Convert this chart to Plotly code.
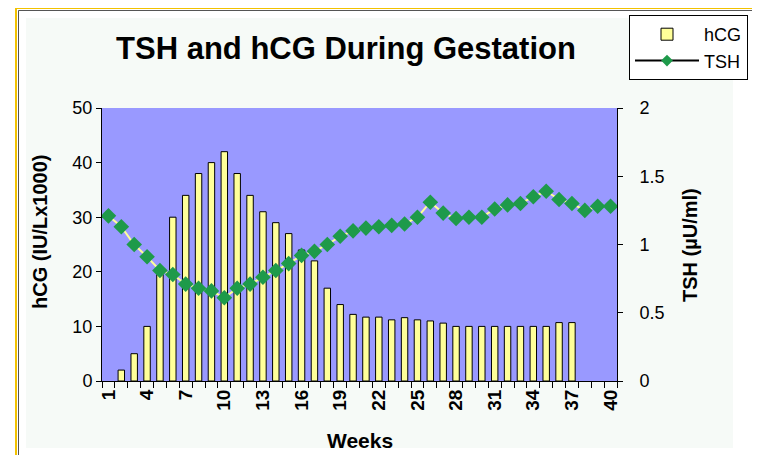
import plotly.graph_objects as go

weeks = list(range(1, 41))
hcg = [None, 2, 5, 10, 19.5, 30, 34, 38, 40, 42, 38, 34, 31, 29, 27, 24, 22, 17, 14, 12.2,
       11.7, 11.7, 11.2, 11.6, 11.2, 11.0, 10.6, 10, 10, 10, 10, 10, 10, 10, 10, 10.7, 10.7,
       None, None, None]
tsh = [1.21, 1.13, 1.0, 0.91, 0.81, 0.78, 0.71, 0.68, 0.66, 0.61, 0.68, 0.71, 0.76, 0.81,
       0.86, 0.92, 0.95, 1.0, 1.06, 1.1, 1.12, 1.13, 1.14, 1.15, 1.2, 1.31, 1.23, 1.19,
       1.2, 1.2, 1.26, 1.29, 1.3, 1.35, 1.39, 1.33, 1.3, 1.25, 1.28, 1.28]
x_ticks = list(range(1, 41, 3))

OFF = 8  # page body margin
W, H = 760 - OFF, 455 - OFF
SL, SR, ST, SB = 102, 617, 108, 381  # plot area in screenshot pixels


def px(x):
    return (x - SL) / (SR - SL)


def py(y):
    return (SB - y) / (SB - ST)


fig = go.Figure()
fig.add_trace(go.Bar(
    x=weeks, y=hcg, name="hCG", width=0.5,
    marker=dict(color="#FFFF99", line=dict(color="black", width=1)),
    yaxis="y",
))
fig.add_trace(go.Scatter(
    x=weeks, y=tsh, name="TSH", mode="lines+markers", yaxis="y2",
    line=dict(color="#FFFF99", width=2),
    marker=dict(symbol="diamond", size=12, color="#1E9A4A"),
    showlegend=False,
))
fig.add_trace(go.Scatter(
    x=[None], y=[None], name="TSH", mode="lines+markers", yaxis="y2",
    line=dict(color="black", width=2),
    marker=dict(symbol="diamond", size=9, color="#1E9A4A"),
))

font = "Liberation Sans, Arial, sans-serif"
shapes = [
    dict(type="rect", xref="paper", yref="paper", layer="below",
         x0=px(26), x1=px(733), y0=py(448), y1=py(18),
         fillcolor="#F6FAF7", line=dict(width=0)),
    dict(type="rect", xref="paper", yref="paper", layer="below",
         x0=0, x1=1, y0=0, y1=1,
         fillcolor="#9999FF", line=dict(width=0)),
    dict(type="rect", xref="paper", yref="paper", layer="below",
         x0=px(16), x1=px(775), y0=py(470), y1=py(8),
         line=dict(color="#F2C200", width=2)),
    dict(type="rect", xref="paper", yref="paper", layer="below",
         x0=px(18.5), x1=px(775), y0=py(470), y1=py(10.5),
         line=dict(color="#555555", width=1)),
]

annotations = [
    dict(text="<b>hCG (IU/Lx1000)</b>", xref="paper", yref="paper",
         x=px(40), y=py(232), textangle=-90, showarrow=False,
         xanchor="center", yanchor="middle", font=dict(size=20, family=font)),
    dict(text="<b>TSH (µU/ml)</b>", xref="paper", yref="paper",
         x=px(690), y=py(245), textangle=-90, showarrow=False,
         xanchor="center", yanchor="middle", font=dict(size=20, family=font)),
    dict(text="<b>Weeks</b>", xref="paper", yref="paper",
         x=px(360), y=py(440), showarrow=False,
         xanchor="center", yanchor="middle", font=dict(size=21, family=font)),
]

fig.update_layout(
    width=W, height=H,
    margin=dict(l=SL - OFF, r=W - (SR - OFF), t=ST - OFF, b=H - (SB - OFF)),
    paper_bgcolor="white",
    plot_bgcolor="rgba(0,0,0,0)",
    font=dict(family=font, color="black"),
    title=dict(text="<b>TSH and hCG During Gestation</b>", x=px(346), xref="paper",
               xanchor="center", y=1 - (48 - OFF) / H, yanchor="middle",
               font=dict(size=31, family=font, color="black")),
    showlegend=True,
    legend=dict(xref="container", yref="container",
                x=(629 - OFF) / W, y=1 - (15 - OFF) / H, xanchor="left", yanchor="top",
                bgcolor="white", bordercolor="black", borderwidth=1,
                font=dict(size=18, family=font), tracegroupgap=7,
                itemwidth=64),
    xaxis=dict(
        range=[0.5, 40.5], tickmode="array", tickvals=x_ticks,
        ticktext=["<b>%d</b>" % v for v in x_ticks], tickangle=-90,
        ticks="", showgrid=False, zeroline=False, automargin=False,
        showline=True, linecolor="black", linewidth=1,
        tickfont=dict(size=19, family=font),
        minor=dict(tickmode="linear", tick0=0.5, dtick=1, ticks="outside",
                   ticklen=6, tickcolor="black", showgrid=False),
    ),
    yaxis=dict(
        range=[0, 50], dtick=10, ticks="outside", ticklen=5, tickcolor="black",
        showgrid=False, zeroline=False, showline=True, linecolor="black",
        automargin=False,
        tickfont=dict(size=18, family=font),
    ),
    yaxis2=dict(
        range=[0, 2], dtick=0.5, overlaying="y", side="right",
        ticks="outside", ticklen=5, tickcolor="black", ticklabelstandoff=13,
        showgrid=False, zeroline=False, showline=True, linecolor="black",
        automargin=False,
        tickfont=dict(size=18, family=font),
    ),
    shapes=shapes,
    annotations=annotations,
)

fig.write_html("out.html")
